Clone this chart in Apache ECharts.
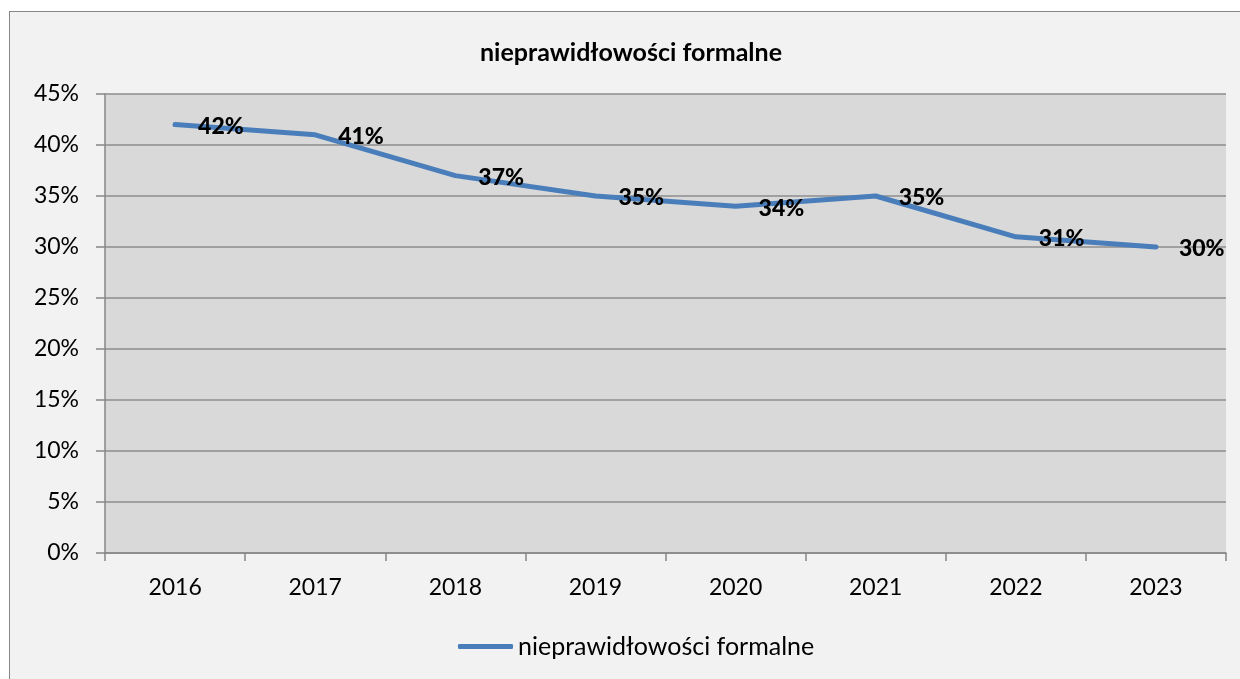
<!DOCTYPE html>
<html><head><meta charset="utf-8">
<script src="https://cdn.jsdelivr.net/npm/echarts@6/dist/echarts.min.js"></script>
<style>
html,body{margin:0;padding:0;background:#fff;}
#wrap{position:relative;width:1240px;height:679px;overflow:hidden;background:#fff;}
#box{position:absolute;left:9px;top:11px;width:1240px;height:700px;background:#f2f2f2;border:1px solid #868686;}
#c{position:absolute;left:0;top:0;width:1240px;height:679px;}
</style>
</head><body>
<div id="wrap"><div id="box"></div><div id="c"></div></div>
<script>
const categories = ['2016','2017','2018','2019','2020','2021','2022','2023'];
const values = [42, 41, 37, 35, 34, 35, 31, 30];
const seriesName = 'nieprawidłowości formalne';
const titleText = 'nieprawidłowości formalne';
const yMin = 0, yMax = 45, yStep = 5;

const FONT = 'Lato';
const chart = echarts.init(document.getElementById('c'), null, {renderer:'canvas'});
chart.setOption({
  backgroundColor: 'transparent',
  animation: false,
  title: {
    text: titleText, left: 480, top: 40, padding: 0,
    textStyle: {fontFamily: FONT, fontWeight: 'bold', fontSize: 25, color: '#000'}
  },
  legend: {
    data: [{name: seriesName, icon: 'roundRect'}],
    left: 458, top: 634, padding: 0,
    itemWidth: 55, itemHeight: 5, itemGap: 4,
    textStyle: {fontFamily: FONT, fontSize: 25, color: '#000', padding: [0,0,0,0]}
  },
  grid: {
    left: 105, top: 94, right: 14, bottom: 126,
    show: true, backgroundColor: '#d9d9d9', borderWidth: 0
  },
  xAxis: {
    type: 'category', data: categories, boundaryGap: true,
    axisLine: {show: true, lineStyle: {color: '#868686', width: 1.5}},
    axisTick: {show: true, interval: 0, length: 8, lineStyle: {color: '#868686', width: 1.5}},
    axisLabel: {fontFamily: FONT, fontSize: 23, color: '#000', margin: 23}
  },
  yAxis: {
    type: 'value', min: yMin, max: yMax, interval: yStep,
    axisLine: {show: true, lineStyle: {color: '#868686', width: 1.5}},
    axisTick: {show: true, length: 9, lineStyle: {color: '#868686', width: 1.5}},
    splitLine: {show: true, lineStyle: {color: '#8c8c8c', width: 1.5}},
    axisLabel: {fontFamily: FONT, fontSize: 23, color: '#000', margin: 26, formatter: v => v + '%'}
  },
  series: [{
    name: seriesName, type: 'line', data: values,
    symbol: 'circle', symbolSize: 2, showSymbol: true,
    itemStyle: {color: '#4a7ebb'},
    lineStyle: {color: '#4a7ebb', width: 5, cap: 'round', join: 'round'},
    label: {
      show: true, position: 'right', distance: 22, offset: [0, 2],
      fontFamily: FONT, fontWeight: 900, fontSize: 23, color: '#000',
      formatter: p => p.value + '%'
    }
  }]
});
</script>
</body></html>
